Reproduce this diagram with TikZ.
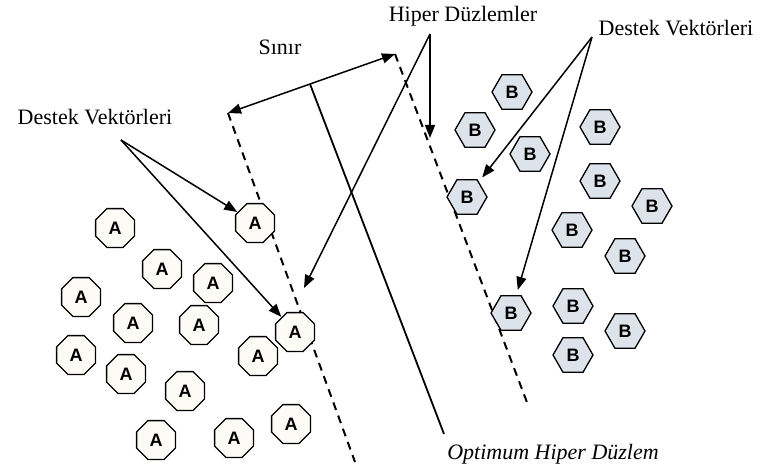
\documentclass[tikz,border=0pt]{standalone}
\usepackage{fontspec}
\setmainfont{Liberation Serif}
\newfontfamily\lettfont{Liberation Sans}
\usetikzlibrary{shapes.geometric,arrows.meta}
\definecolor{afill}{RGB}{253,251,245}
\definecolor{bfill}{RGB}{221,227,235}
\begin{document}
\begin{tikzpicture}[x=1pt,y=-1pt,
  ptA/.style={regular polygon, regular polygon sides=8, minimum size=42pt, inner sep=0pt,
    draw, line width=1.3pt, fill=afill, outer sep=1pt,
    font=\lettfont\bfseries\fontsize{18}{18}\selectfont},
  ptB/.style={regular polygon, regular polygon sides=6, minimum size=40pt, inner sep=0pt,
    draw, line width=1.3pt, fill=bfill, outer sep=1pt,
    font=\lettfont\bfseries\fontsize{18}{18}\selectfont},
  lbl/.style={font=\fontsize{22}{25}\selectfont, inner sep=0pt},
  arr/.style={line width=1.5pt, -{Triangle[length=13pt,width=10pt]}},
  darr/.style={line width=1.5pt, {Triangle[length=13pt,width=10pt]}-{Triangle[length=13pt,width=10pt]}},
  hyp/.style={line width=2pt, dash pattern=on 8pt off 6pt},
  opt/.style={line width=1.8pt},
]
\useasboundingbox (0,0) rectangle (760,468);

% hyperplanes
\coordinate (h1t) at (228,113);
\coordinate (h1b) at (355,462);
\coordinate (h2t) at (395,54);
\coordinate (h2b) at (528,405);
\coordinate (ot) at (310,84);
\coordinate (ob) at (444,434);
\draw[hyp] (h1t) -- (h1b);
\draw[hyp] (h2t) -- (h2b);
\draw[opt] (ot) -- (ob);

% A points
\foreach \n/\x/\y in {a1/115/228, a2/255/223, a3/162/269, a4/213/283, a5/81/297,
  a6/133/323, a7/199/325, a8/295/332, a9/76/355, a10/258/356, a11/126/374,
  a12/185/391, a13/291/424, a14/156/440, a15/234/438}
  \node[ptA] (\n) at (\x,\y) {A};

% B points
\foreach \n/\x/\y in {b1/512/92, b2/475/130, b3/530/154, b4/600/127, b5/467/197,
  b6/600/181, b7/652/206, b8/572/230, b9/625/256, b10/511/313, b11/573/306,
  b12/625/331, b13/573/355}
  \node[ptB] (\n) at (\x,\y) {B};

% labels
\node[lbl] (sinir) at (280,47) {Sınır};
\node[lbl] (hiper) at (463,16) {Hiper Düzlemler};
\node[lbl] (dvl) at (95,117) {Destek Vektörleri};
\node[lbl] (dvr) at (676,28) {Destek Vektörleri};
\node[lbl, font=\itshape\fontsize{22}{25}\selectfont] (optl) at (553,454) {Optimum Hiper Düzlem};

% arrow origins / free ends
\coordinate (dvlo) at (121,140);
\coordinate (dvro) at (592,37);
\coordinate (hpo) at (430,34);
\coordinate (hp1) at (430,138);
\coordinate (hp2) at (304,288);

% arrows
\draw[darr] (h1t) -- (h2t);
\draw[arr] (hpo) -- (hp1);
\draw[arr] (hpo) -- (hp2);
\draw[arr] (dvlo) -- (a2);
\draw[arr] (dvlo) -- (a8);
\draw[arr, shorten >=5pt] (dvro) -- (b5);
\draw[arr, shorten >=5pt] (dvro) -- (b10);
\end{tikzpicture}
\end{document}
